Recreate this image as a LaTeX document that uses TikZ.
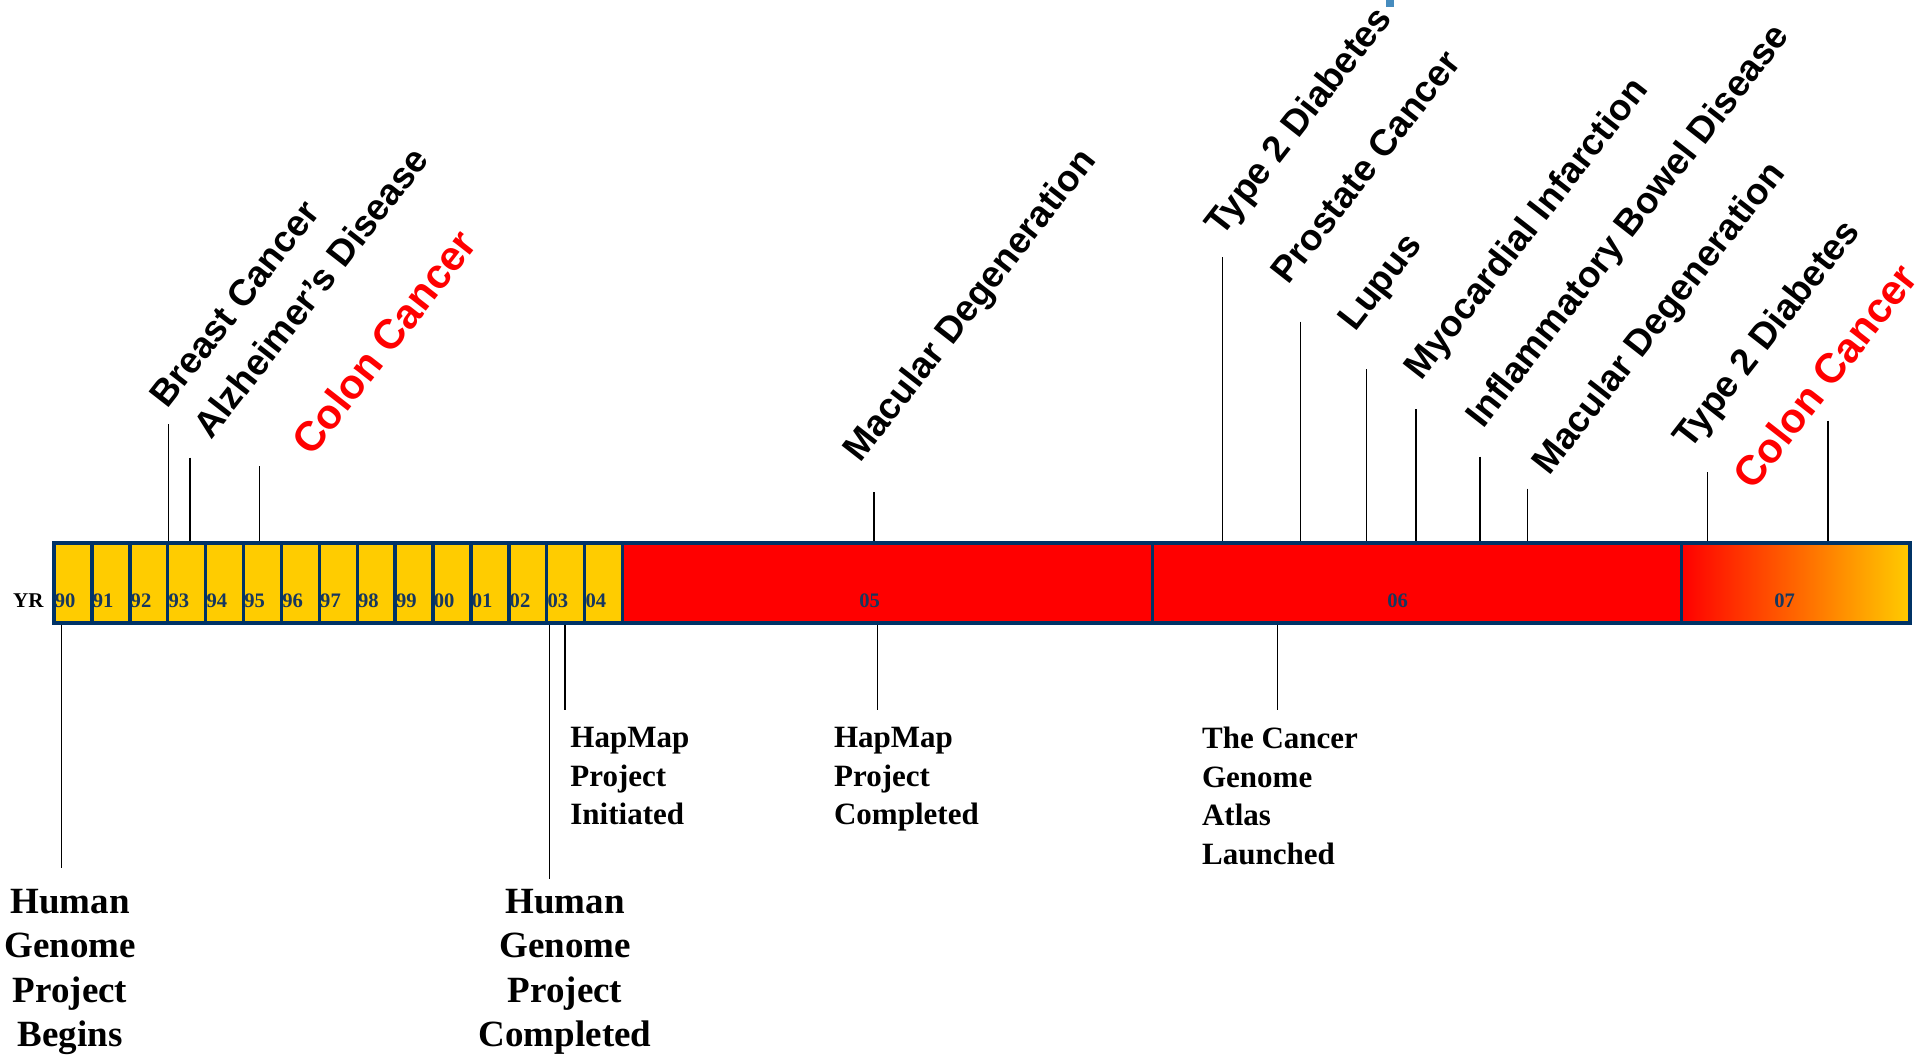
\documentclass[tikz,border=0pt]{standalone}
\usepackage{fontspec}
\setmainfont{Liberation Serif}
\setsansfont{Liberation Sans}
\usepackage{xcolor}
\usepackage{tikz}

\definecolor{barnavy}{RGB}{0,51,102}
\definecolor{yeargold}{RGB}{255,204,0}
\definecolor{yearred}{RGB}{255,0,0}
\definecolor{midorange}{RGB}{255,140,0}
\definecolor{yearlabel}{RGB}{23,55,94}
\definecolor{handle}{RGB}{70,140,190}

\begin{document}
\begin{tikzpicture}[
  x=0.5pt, y=-0.5pt,
  yearcell/.style={draw=barnavy, line width=1.7pt, fill=yeargold, minimum height=40pt, inner sep=0},
  yearnum/.style={text=yearlabel, font=\bfseries\fontsize{10.3}{12}\selectfont, inner sep=0, anchor=base west},
  event/.style={font=\sffamily\bfseries\fontsize{18.4}{22}\selectfont, rotate=52, inner sep=0, anchor=base west},
  colon/.style={event, text=red, font=\sffamily\bfseries\fontsize{20.8}{25}\selectfont},
  tick/.style={draw=black, line width=0.6pt},
  milestone/.style={font=\bfseries\fontsize{15.5}{19.2}\selectfont, align=left, inner sep=0, anchor=north west},
  bigmilestone/.style={font=\bfseries\fontsize{18.5}{22.3}\selectfont, align=center, inner sep=0, anchor=north}
]
\useasboundingbox (0,0) rectangle (1929,1055);

\foreach \yr [count=\i] in {90,91,92,93,94,95,96,97,98,99,00,01,02,03,04}
  \node[yearcell, minimum width=18.95pt] (yr-\yr) at ({54+37.9*(\i-0.5)},583) {};
\node[yearcell, fill=yearred, minimum width=265.1pt] (yr-05) at (887.6,583) {};
\node[yearcell, fill=yearred, minimum width=264.5pt] (yr-06) at (1417.2,583) {};
\node[yearcell, left color=yearred, middle color=midorange, right color=yeargold,
      minimum width=114.15pt] (yr-07) at (1795.85,583) {};

\foreach \yr [count=\i] in {90,91,92,93,94,95,96,97,98,99,00,01,02,03,04}
  \node[yearnum] (lab-\yr) at ({54.5+37.9*(\i-1)},607.5) {\yr};
\node[yearnum] (lab-05) at (859,607.5) {05};
\node[yearnum] (lab-06) at (1387,607.5) {06};
\node[yearnum] (lab-07) at (1774,607.5) {07};
\node[yearnum, text=black, font=\bfseries\fontsize{10.5}{12}\selectfont] (yr-label) at (12.7,607.7) {YR};

\coordinate (t-breast) at (168.8,424);
\coordinate (t-alzheimer) at (190,457.5);
\coordinate (t-colon-a) at (259.5,466);
\coordinate (t-macular-a) at (874,492);
\coordinate (t-diabetes-a) at (1222.3,257.3);
\coordinate (t-prostate) at (1300.7,321.7);
\coordinate (t-lupus) at (1366.7,369.3);
\coordinate (t-myocardial) at (1416,409);
\coordinate (t-ibd) at (1480,456.7);
\coordinate (t-macular-b) at (1527.7,488.7);
\coordinate (t-diabetes-b) at (1707.7,472);
\coordinate (t-colon-b) at (1828,420.7);
\foreach \t in {breast,alzheimer,colon-a,macular-a,diabetes-a,prostate,lupus,myocardial,ibd,macular-b,diabetes-b,colon-b}
  \draw[tick] (t-\t) -- (t-\t |- yr-90.north);

\node[event] (ev-breast) at (167,410) {Breast Cancer};
\node[event] (ev-alzheimer) at (211,441) {Alzheimer's Disease};
\node[colon] (ev-colon-a) at (312,458) {Colon Cancer};
\node[event] (ev-macular-a) at (860,464) {Macular Degeneration};
\node[event] (ev-diabetes-a) at (1222,238) {Type 2 Diabetes};
\node[event] (ev-prostate) at (1288,286) {Prostate Cancer};
\node[event] (ev-lupus) at (1355,333) {Lupus};
\node[event] (ev-myocardial) at (1421,382) {Myocardial Infarction};
\node[event] (ev-ibd) at (1483,430) {Inflammatory Bowel Disease};
\node[event] (ev-macular-b) at (1549,477) {Macular Degeneration};
\node[event] (ev-diabetes-b) at (1690,451) {Type 2 Diabetes};
\node[colon] (ev-colon-b) at (1753,492) {Colon Cancer};
\fill[handle] (1386,0) rectangle (1394,7);

\coordinate (b-hgp-begins) at (61.5,868);
\coordinate (b-hgp-done) at (549.5,879);
\coordinate (b-hapmap-init) at (565,710);
\coordinate (b-hapmap-done) at (877.3,710);
\coordinate (b-tcga) at (1277.7,710);
\foreach \t in {hgp-begins,hgp-done,hapmap-init,hapmap-done,tcga}
  \draw[tick] (b-\t |- yr-90.south) -- (b-\t);

\node[bigmilestone] (ms-hgp-begins) at (70,888.5) {Human\\Genome\\Project\\Begins};
\node[bigmilestone] (ms-hgp-done) at (565,888.5) {Human\\Genome\\Project\\Completed};
\node[milestone] (ms-hapmap-init) at (570,727) {HapMap\\Project\\Initiated};
\node[milestone] (ms-hapmap-done) at (833.7,727) {HapMap\\Project\\Completed};
\node[milestone] (ms-tcga) at (1201.7,727) {The Cancer\\Genome\\Atlas\\Launched};
\end{tikzpicture}
\end{document}
